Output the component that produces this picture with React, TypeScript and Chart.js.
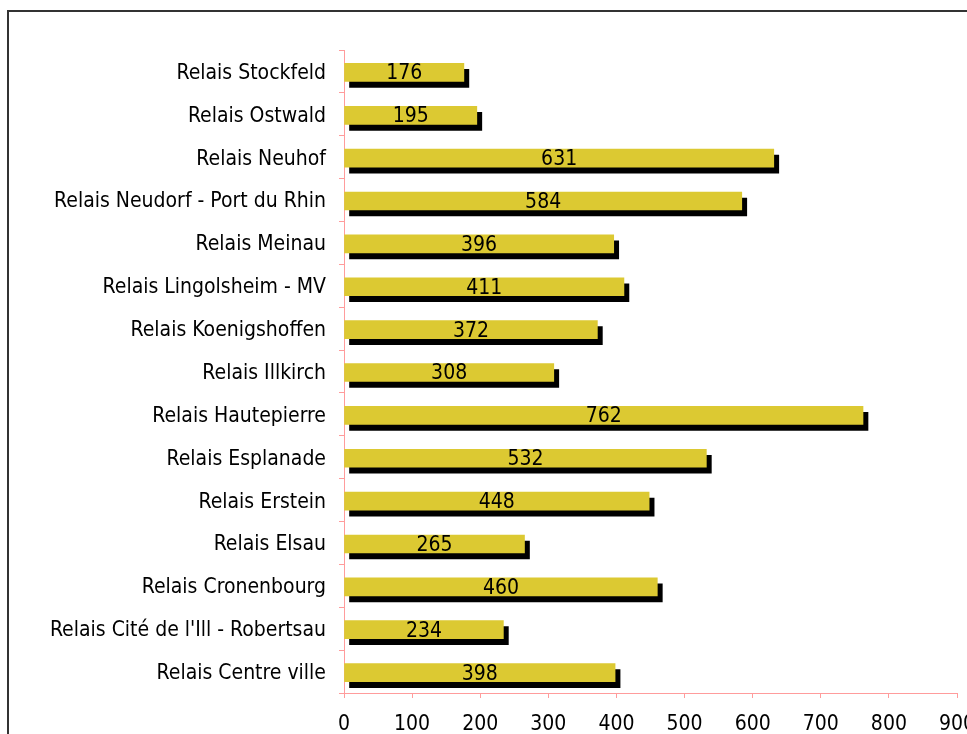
import React, { useEffect, useRef } from "react";
import { Chart, registerables } from "chart.js";

Chart.register(...registerables);

const categories: string[] = [
  "Relais Stockfeld",
  "Relais Ostwald",
  "Relais Neuhof",
  "Relais Neudorf - Port du Rhin",
  "Relais Meinau",
  "Relais Lingolsheim - MV",
  "Relais Koenigshoffen",
  "Relais Illkirch",
  "Relais Hautepierre",
  "Relais Esplanade",
  "Relais Erstein",
  "Relais Elsau",
  "Relais Cronenbourg",
  "Relais Cité de l'Ill - Robertsau",
  "Relais Centre ville",
];

const values: number[] = [176, 195, 631, 584, 396, 411, 372, 308, 762, 532, 448, 265, 460, 234, 398];

const xTicks: number[] = [0, 100, 200, 300, 400, 500, 600, 700, 800, 900];

const FONT = "'DejaVu Sans Condensed', 'DejaVu Sans', sans-serif";
const PINK = "#ff9c9c";
const YELLOW = "#dcc932";

const borderPlugin = {
  id: "frameBorder",
  beforeDraw(chart: any) {
    const ctx = chart.ctx;
    ctx.save();
    ctx.fillStyle = "#ffffff";
    ctx.fillRect(0, 0, chart.width, chart.height);
    ctx.strokeStyle = "#333333";
    ctx.lineWidth = 2;
    ctx.strokeRect(8, 11, 3000, 3000);
    ctx.restore();
  },
};

const shadowPlugin = {
  id: "barShadow",
  beforeDatasetsDraw(chart: any) {
    const ctx = chart.ctx;
    ctx.save();
    ctx.translate(0, 1);
    ctx.shadowColor = "#000000";
    ctx.shadowOffsetX = 5;
    ctx.shadowOffsetY = 6;
    ctx.shadowBlur = 0;
  },
  afterDatasetsDraw(chart: any) {
    const ctx = chart.ctx;
    ctx.restore();
    ctx.save();
    ctx.fillStyle = "#000000";
    ctx.font = `21px ${FONT}`;
    ctx.textAlign = "center";
    ctx.textBaseline = "middle";
    const meta = chart.getDatasetMeta(0);
    meta.data.forEach((bar: any, i: number) => {
      const { x, y, base } = bar.getProps(["x", "y", "base"], true);
      ctx.fillText(String(chart.data.datasets[0].data[i]), (x + base) / 2, y + 2.5);
    });
    ctx.restore();
  },
};

export default function App() {
  const canvasRef = useRef<HTMLCanvasElement | null>(null);

  useEffect(() => {
    document.body.style.margin = "0";
    const canvas = canvasRef.current;
    if (!canvas) return;
    const chart = new Chart(canvas, {
      type: "bar",
      data: {
        labels: categories,
        datasets: [
          {
            data: values,
            backgroundColor: YELLOW,
            borderWidth: 0,
            barThickness: 18,
          },
        ],
      },
      options: {
        indexAxis: "y",
        responsive: false,
        animation: false,
        devicePixelRatio: 1,
        layout: { padding: { top: 50, left: 0, right: 43, bottom: 0 } },
        plugins: {
          legend: { display: false },
          tooltip: { enabled: false },
          title: { display: false },
        },
        scales: {
          x: {
            type: "linear",
            min: xTicks[0],
            max: xTicks[xTicks.length - 1],
            afterBuildTicks: (s: any) => {
              s.ticks = xTicks.map((v) => ({ value: v }));
            },
            afterFit: (s: any) => {
              s.height = 41;
            },
            grid: {
              drawOnChartArea: false,
              drawTicks: true,
              tickLength: 5,
              color: PINK,
            },
            border: { color: PINK, width: 1 },
            ticks: {
              color: "#000000",
              padding: 14,
              font: { family: FONT, size: 21 },
              maxRotation: 0,
              autoSkip: false,
            },
          },
          y: {
            type: "category",
            offset: true,
            afterFit: (s: any) => {
              s.width = 344;
            },
            grid: {
              offset: true,
              drawOnChartArea: false,
              drawTicks: true,
              tickLength: 5,
              color: PINK,
            },
            border: { color: PINK, width: 1 },
            ticks: {
              color: "#000000",
              padding: 13,
              labelOffset: 2,
              font: { family: FONT, size: 21 },
              autoSkip: false,
            },
          },
        },
      },
      plugins: [borderPlugin, shadowPlugin],
    } as any);
    return () => {
      chart.destroy();
    };
  }, []);

  return (
    <div style={{ position: "relative", width: 967, height: 734, overflow: "hidden", background: "#fff" }}>
      <canvas ref={canvasRef} width={1000} height={734} style={{ width: 1000, height: 734, display: "block" }} />
    </div>
  );
}
